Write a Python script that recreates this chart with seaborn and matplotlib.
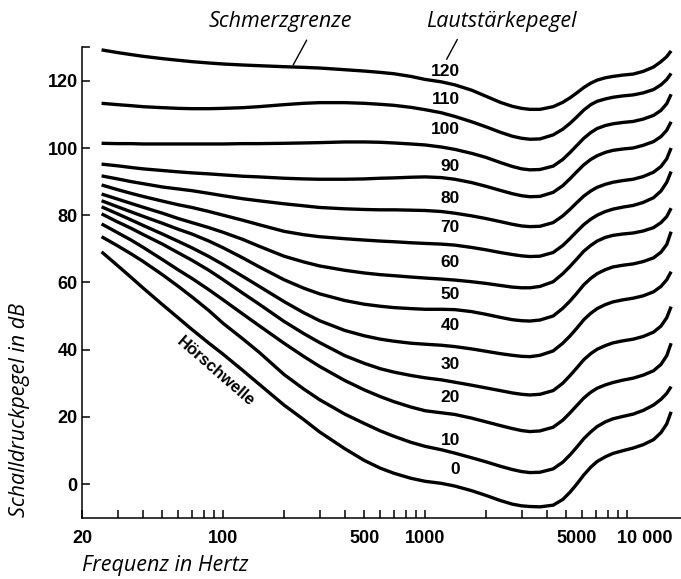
import numpy as np
import pandas as pd
import matplotlib
matplotlib.use("Agg")
import matplotlib.pyplot as plt
import matplotlib.transforms as mtransforms
import seaborn as sns

# --- data (frequency in Hz, sound pressure level in dB) ---
freq = [25, 30, 35, 40, 50, 60, 70, 85, 100, 125, 150, 200, 250, 300, 400, 500, 600, 700, 850, 1000,
        1200, 1400, 1700, 2000, 2350, 2700, 3000, 3300, 3700, 4300, 4800, 5200, 5600, 6100, 6600,
        7100, 7800, 8500, 9500, 10700, 12000, 13500, 14700, 15700, 16500]

phon_120 = [129.2, 128.4, 127.8, 127.3, 126.6, 126.1, 125.7, 125.3, 125.0, 124.7, 124.5, 124.2, 124.0,
            123.8, 123.3, 122.9, 122.5, 122.1, 121.3, 120.4,
            119.7, 118.8, 117.2, 115.4, 113.6, 112.4, 111.8, 111.5, 111.5, 112.3, 113.6, 114.9, 116.3,
            118.0, 119.3, 120.2, 120.9, 121.3, 121.7, 122.0, 122.8, 124.1, 125.7, 127.2, 128.9]
phon_110 = [113.3, 112.9, 112.6, 112.3, 112.0, 111.8, 111.7, 111.7, 111.8, 112.0, 112.3, 112.9, 113.3,
            113.5, 113.5, 113.3, 113.0, 112.7, 112.1, 111.4,
            110.5, 109.4, 107.8, 106.3, 104.7, 103.5, 102.9, 102.6, 102.7, 103.9, 105.6, 107.3, 109.1,
            111.3, 112.9, 113.9, 114.6, 115.1, 115.5, 115.8, 116.4, 117.4, 118.8, 120.4, 122.2]
phon_100 = [101.4, 101.3, 101.3, 101.2, 101.2, 101.2, 101.2, 101.2, 101.2, 101.3, 101.3, 101.4, 101.5,
            101.6, 101.8, 101.8, 101.7, 101.5, 101.2, 100.9,
            100.3, 99.6, 98.4, 97.2, 95.7, 94.5, 93.8, 93.5, 93.6, 94.6, 96.6, 98.6, 100.6,
            102.9, 104.6, 105.8, 106.7, 107.2, 107.6, 107.9, 108.6, 109.7, 111.2, 113.2, 116.0]
phon_90 = [95.2, 94.7, 94.2, 93.8, 93.3, 92.9, 92.6, 92.3, 92.0, 91.6, 91.4, 91.0, 90.8,
           90.7, 90.7, 90.8, 91.0, 91.1, 91.3, 91.4,
           91.2, 90.7, 89.7, 88.6, 87.4, 86.4, 85.8, 85.5, 85.6, 86.8, 88.8, 90.8, 92.8,
           95.0, 96.6, 97.7, 98.7, 99.3, 99.7, 100.0, 100.8, 101.9, 103.4, 105.3, 107.8]
phon_80 = [91.7, 90.8, 90.0, 89.4, 88.4, 87.8, 87.3, 86.5, 85.8, 84.9, 84.3, 83.4, 82.8,
           82.3, 81.9, 81.7, 81.6, 81.6, 81.5, 81.4,
           81.1, 80.6, 79.8, 79.0, 78.1, 77.3, 76.8, 76.6, 76.7, 77.8, 79.8, 81.7, 83.6,
           85.7, 87.2, 88.3, 89.2, 89.8, 90.3, 90.7, 91.5, 92.8, 94.5, 96.8, 100.0]
phon_70 = [89.0, 87.6, 86.5, 85.6, 84.2, 83.1, 82.3, 81.1, 80.0, 78.5, 77.2, 75.2, 74.2,
           73.6, 73.0, 72.6, 72.3, 72.1, 71.8, 71.6,
           71.4, 71.1, 70.4, 69.7, 68.9, 68.3, 67.9, 67.7, 67.8, 68.9, 71.0, 73.0, 75.0,
           77.2, 78.8, 80.0, 81.1, 81.8, 82.4, 82.9, 83.8, 85.2, 87.2, 89.8, 93.0]
phon_60 = [86.3, 84.8, 83.5, 82.4, 80.6, 79.0, 77.8, 76.3, 74.9, 72.8, 70.8, 67.8, 66.1,
           64.9, 63.6, 62.8, 62.3, 62.0, 61.6, 61.3,
           61.0, 60.7, 60.2, 59.7, 59.1, 58.6, 58.4, 58.4, 58.8, 60.2, 62.6, 64.7, 66.8,
           69.3, 71.0, 72.3, 73.4, 74.0, 74.4, 74.7, 75.3, 76.3, 77.8, 79.6, 82.1]
phon_50 = [84.3, 82.5, 81.0, 79.7, 77.6, 75.8, 74.4, 72.3, 70.3, 67.3, 64.7, 60.8, 58.3,
           56.6, 54.6, 53.5, 52.9, 52.5, 52.2, 52.0,
           52.0, 51.9, 51.3, 50.5, 49.6, 48.9, 48.6, 48.5, 48.8, 50.0, 52.3, 54.4, 56.6,
           59.3, 61.2, 62.6, 63.8, 64.6, 65.1, 65.5, 66.2, 67.3, 69.0, 71.3, 75.1]
phon_40 = [82.5, 80.4, 78.6, 77.0, 74.4, 72.2, 70.3, 67.7, 65.3, 61.8, 58.9, 54.3, 51.0,
           48.6, 45.7, 44.1, 43.1, 42.5, 41.9, 41.6,
           41.3, 40.9, 40.2, 39.5, 38.8, 38.3, 38.0, 37.9, 38.3, 39.6, 41.9, 44.0, 46.2,
           48.9, 50.8, 52.2, 53.4, 54.2, 54.8, 55.3, 56.0, 57.2, 58.8, 60.8, 63.2]
phon_30 = [80.4, 78.0, 76.1, 74.3, 71.4, 68.8, 66.6, 63.6, 60.8, 56.8, 53.6, 48.4, 44.8,
           42.1, 38.2, 35.9, 34.3, 33.3, 32.3, 31.6,
           31.0, 30.3, 29.4, 28.6, 27.8, 27.1, 26.7, 26.5, 26.7, 27.8, 30.0, 32.2, 34.4,
           37.0, 38.8, 40.1, 41.2, 42.0, 42.6, 43.1, 43.9, 45.2, 47.0, 49.5, 52.8]
phon_20 = [77.4, 74.8, 72.6, 70.5, 66.8, 63.7, 61.2, 57.8, 54.8, 50.6, 47.2, 41.9, 38.0,
           35.0, 30.8, 28.0, 26.0, 24.5, 22.9, 21.8,
           21.2, 20.7, 19.6, 18.5, 17.4, 16.5, 15.9, 15.6, 15.8, 16.9, 19.0, 21.1, 23.2,
           25.6, 27.3, 28.5, 29.5, 30.2, 30.9, 31.5, 32.4, 33.7, 35.6, 38.2, 41.9]
phon_10 = [73.6, 70.9, 68.5, 66.3, 62.3, 58.8, 55.7, 51.6, 47.8, 43.2, 39.3, 32.6, 28.3,
           25.1, 20.8, 18.0, 15.8, 14.2, 12.4, 11.2,
           10.2, 9.2, 7.8, 6.6, 5.3, 4.3, 3.7, 3.4, 3.5, 4.5, 6.5, 8.6, 10.8,
           13.5, 15.5, 17.1, 18.5, 19.4, 20.1, 20.8, 21.9, 23.5, 25.2, 27.0, 29.0]
phon_0 = [69.1, 65.0, 61.5, 58.4, 53.4, 49.4, 46.0, 41.9, 38.6, 33.8, 29.8, 23.5, 19.2,
          15.5, 10.5, 7.0, 4.7, 3.2, 1.7, 0.8,
          0.2, -0.6, -2.0, -3.4, -4.9, -6.0, -6.5, -6.7, -6.8, -6.3, -4.6, -2.5, -0.2,
          2.7, 5.0, 6.7, 8.1, 9.1, 9.9, 10.7, 11.7, 13.2, 15.3, 17.9, 21.5]

levels = [120, 110, 100, 90, 80, 70, 60, 50, 40, 30, 20, 10, 0]
curves = [phon_120, phon_110, phon_100, phon_90, phon_80, phon_70, phon_60,
          phon_50, phon_40, phon_30, phon_20, phon_10, phon_0]

# where the curve numbers sit (dB), right aligned at about 1500 Hz
label_db = [122.7, 114.3, 105.4, 94.6, 85.0, 76.3, 65.9, 56.3, 47.3, 35.7, 25.8, 12.8, 4.4]

tick_major = [20, 100, 500, 1000, 5000, 10000]
tick_major_labels = ["20", "100", "500", "1000", "5000", "10 000"]
tick_minor = [30, 40, 50, 60, 70, 80, 90, 200, 300, 400, 600, 700, 800, 900,
              2000, 3000, 4000, 6000, 7000, 8000, 9000]

# long-form table for seaborn
rows = []
for lv, vals in zip(levels, curves):
    for f, v in zip(freq, vals):
        rows.append({"phon": lv, "freq": f, "spl": v})
df = pd.DataFrame(rows)

sns.set_theme(style="ticks")
plt.rcParams["font.family"] = ["Liberation Sans", "DejaVu Sans"]

fig = plt.figure(figsize=(6.81, 5.79), dpi=100)
ax = fig.add_axes([82 / 681, 1 - 517.6 / 579, 599 / 681, 470.4 / 579])

sns.lineplot(data=df, x="freq", y="spl", units="phon", estimator=None,
             sort=False, color="black", lw=2.4, ax=ax, legend=False,
             solid_joinstyle="round", solid_capstyle="butt")

ax.set_xscale("log")
ax.set_xlim(20, 20 * 10 ** (599 / 202))
ax.set_ylim(-10, 130)

for sp in ["top", "right"]:
    ax.spines[sp].set_visible(False)
for sp in ["left", "bottom"]:
    ax.spines[sp].set_linewidth(1.1)
    ax.spines[sp].set_color("black")

ax.set_xticks(tick_major)
ax.set_xticklabels(tick_major_labels)
ax.set_xticks(tick_minor, minor=True)
ax.set_yticks([0, 20, 40, 60, 80, 100, 120, 130])
ax.set_yticklabels(["0", "20", "40", "60", "80", "100", "120", ""])
ax.tick_params(axis="both", which="both", direction="in", length=5.5, width=1.1,
               colors="black", labelsize=13)
ax.tick_params(axis="x", which="both", pad=9)
ax.tick_params(axis="y", which="both", pad=3)
for lab in ax.get_xticklabels() + ax.get_yticklabels():
    lab.set_fontweight("bold")

# the two right hand labels are set a bit to the right in the original
shift = {"5000": 10, "10 000": 18}
for lab in ax.get_xticklabels():
    dx = shift.get(lab.get_text(), 0)
    if dx:
        lab.set_transform(lab.get_transform() +
                          mtransforms.ScaledTranslation(dx / 100, 0, fig.dpi_scale_trans))

ax.set_xlabel("")
ax.set_ylabel("")

# curve numbers
for lv, yl in zip(levels, label_db):
    ax.text(1486, yl, str(lv), ha="right", va="center", fontsize=12.5,
            fontweight="bold", color="black")

ax.text(92, 33.6, "Hörschwelle", rotation=-41, rotation_mode="anchor",
        ha="center", va="center", fontsize=12, fontweight="bold", color="black")

# leader lines for the headings
ax.plot([259, 222], [132.1, 124.7], color="black", lw=1.0, clip_on=False)
ax.plot([1442, 1277], [132.3, 126.4], color="black", lw=1.0, clip_on=False)

ital = dict(family=["Open Sans", "DejaVu Sans"], style="italic", fontsize=15.5, color="black")
fig.text(280 / 681, 1 - 22 / 579, "Schmerzgrenze", ha="center", va="center", **ital)
fig.text(501 / 681, 1 - 22 / 579, "Lautstärkepegel", ha="center", va="center", **ital)
fig.text(20 / 681, 1 - 410 / 579, "Schalldruckpegel in dB", rotation=90,
         ha="center", va="center", **ital)
fig.text(82 / 681, 1 - 565 / 579, "Frequenz in Hertz", ha="left", va="center", **ital)

fig.savefig("out.png", dpi=100)
